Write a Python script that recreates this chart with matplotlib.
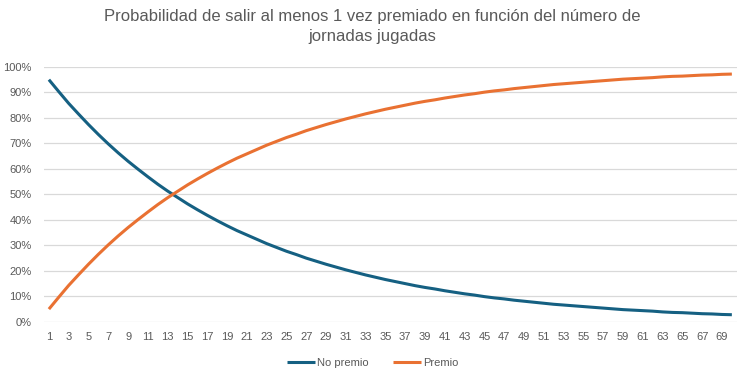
import numpy as np
import matplotlib.pyplot as plt
from matplotlib.ticker import PercentFormatter

# Jornadas jugadas
jornadas = list(range(1, 71))

# Probabilidad (%)
no_premio = [95.0, 90.3, 85.7, 81.5, 77.4, 73.5, 69.8, 66.3, 63.0, 59.9,
             56.9, 54.0, 51.3, 48.8, 46.3, 44.0, 41.8, 39.7, 37.7, 35.8,
             34.1, 32.4, 30.7, 29.2, 27.7, 26.4, 25.0, 23.8, 22.6, 21.5,
             20.4, 19.4, 18.4, 17.5, 16.6, 15.8, 15.0, 14.2, 13.5, 12.9,
             12.2, 11.6, 11.0, 10.5, 9.9, 9.4, 9.0, 8.5, 8.1, 7.7,
             7.3, 6.9, 6.6, 6.3, 6.0, 5.7, 5.4, 5.1, 4.8, 4.6,
             4.4, 4.2, 3.9, 3.7, 3.6, 3.4, 3.2, 3.1, 2.9, 2.8]
premio = [5.0, 9.7, 14.3, 18.5, 22.6, 26.5, 30.2, 33.7, 37.0, 40.1,
          43.1, 46.0, 48.7, 51.2, 53.7, 56.0, 58.2, 60.3, 62.3, 64.2,
          65.9, 67.6, 69.3, 70.8, 72.3, 73.6, 75.0, 76.2, 77.4, 78.5,
          79.6, 80.6, 81.6, 82.5, 83.4, 84.2, 85.0, 85.8, 86.5, 87.1,
          87.8, 88.4, 89.0, 89.5, 90.1, 90.6, 91.0, 91.5, 91.9, 92.3,
          92.7, 93.1, 93.4, 93.7, 94.0, 94.3, 94.6, 94.9, 95.2, 95.4,
          95.6, 95.8, 96.1, 96.3, 96.4, 96.6, 96.8, 96.9, 97.1, 97.2]

titulo = "Probabilidad de salir al menos 1 vez premiado en función del número de\njornadas jugadas"

AZUL = "#156082"
NARANJA = "#E97132"
GRIS = "#595959"

plt.rcParams['font.family'] = ['Liberation Sans', 'DejaVu Sans']

fig = plt.figure(figsize=(7.45, 3.76), dpi=100)
ax = fig.add_axes([0.059, 0.144, 0.930, 0.678])

ax.plot(jornadas, no_premio, color=AZUL, lw=2.2, label="No premio", solid_capstyle='butt')
ax.plot(jornadas, premio, color=NARANJA, lw=2.2, label="Premio", solid_capstyle='butt')

ax.set_xlim(0.5, 70.5)
ax.set_ylim(0, 100)
ax.set_yticks(np.arange(0, 101, 10))
ax.yaxis.set_major_formatter(PercentFormatter(decimals=0))
ax.set_xticks(jornadas[::2])
ax.grid(axis='y', color="#D9D9D9", lw=0.9)
ax.set_axisbelow(True)
for s in ax.spines.values():
    s.set_visible(False)
ax.tick_params(length=0, colors=GRIS, labelsize=8)
ax.tick_params(axis='y', pad=9)
ax.tick_params(axis='x', pad=7)

fig.text(0.5, 0.975, titulo, ha='center', va='top', fontsize=12, color=GRIS, linespacing=1.4)

fig.legend(loc='lower center', bbox_to_anchor=(0.5, -0.005), ncol=2, frameon=False,
           fontsize=8, labelcolor=GRIS, handlelength=2.5, handletextpad=0.2,
           columnspacing=2.2)

fig.savefig("out.png", dpi=100)
